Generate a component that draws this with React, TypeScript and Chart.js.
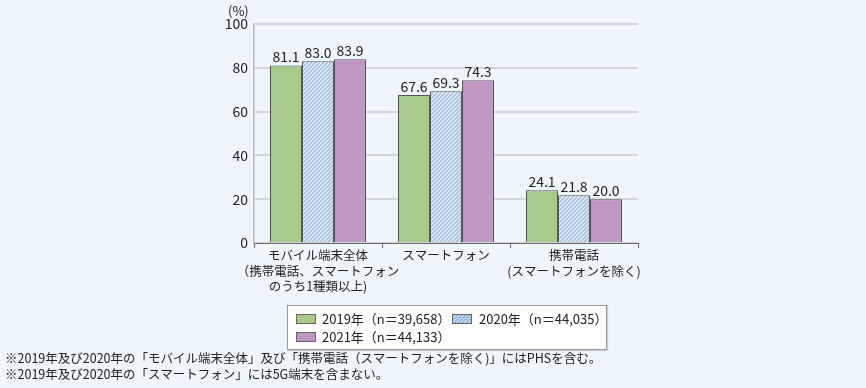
import React, { useEffect, useRef } from "react";
import { Chart, registerables } from "chart.js";

Chart.register(...registerables);

const categories: string[][] = [
  ["モバイル端末全体", "（携帯電話、スマートフォン", "のうち1種類以上)"],
  ["スマートフォン"],
  ["携帯電話", "(スマートフォンを除く)"],
];
const values2019 = [81.1, 67.6, 24.1];
const values2020 = [83.0, 69.3, 21.8];
const values2021 = [83.9, 74.3, 20.0];
const seriesNames = ["2019年（n＝39,658）", "2020年（n＝44,035）", "2021年（n＝44,133）"];
const yMin = 0;
const yMax = 100;
const yStep = 20;
const unitLabel = "(%)";
const footnotes = [
  "※2019年及び2020年の「モバイル端末全体」及び「携帯電話（スマートフォンを除く)」にはPHSを含む。",
  "※2019年及び2020年の「スマートフォン」には5G端末を含まない。",
];

const FONT = "'Noto Sans CJK JP', 'Noto Sans', sans-serif";
const GREEN = "#a7ca8b";
const BLUE = "#9bb9e6";
const PURPLE = "#c096c3";
const BG = "#eef5fd";

function makeHatch(): CanvasPattern | string {
  const c = document.createElement("canvas");
  c.width = 4;
  c.height = 4;
  const g = c.getContext("2d");
  if (!g) return BLUE;
  g.fillStyle = BLUE;
  g.fillRect(0, 0, 4, 4);
  g.strokeStyle = "rgba(255,255,255,0.85)";
  g.lineWidth = 1.3;
  g.beginPath();
  g.moveTo(-1, 5);
  g.lineTo(5, -1);
  g.moveTo(-1, 1);
  g.lineTo(1, -1);
  g.moveTo(3, 5);
  g.lineTo(5, 3);
  g.stroke();
  const p = g.createPattern(c, "repeat");
  return p || BLUE;
}

const valueLabels = {
  id: "valueLabels",
  afterDatasetsDraw(chart: any) {
    const ctx = chart.ctx;
    ctx.save();
    ctx.font = `14px ${FONT}`;
    ctx.fillStyle = "#222";
    ctx.textAlign = "center";
    ctx.textBaseline = "alphabetic";
    chart.data.datasets.forEach((ds: any, i: number) => {
      const meta = chart.getDatasetMeta(i);
      meta.data.forEach((el: any, j: number) => {
        ctx.fillText(Number(ds.data[j]).toFixed(1), el.x, el.y - 3);
      });
    });
    ctx.restore();
  },
};

export default function App() {
  const ref = useRef<HTMLCanvasElement>(null);

  useEffect(() => {
    if (!ref.current) return;
    const hatch = makeHatch();
    const chart = new Chart(ref.current, {
      type: "bar",
      data: {
        labels: categories,
        datasets: [
          { label: seriesNames[0], data: values2019, backgroundColor: GREEN },
          { label: seriesNames[1], data: values2020, backgroundColor: hatch as any },
          { label: seriesNames[2], data: values2021, backgroundColor: PURPLE },
        ].map((d) => ({
          ...d,
          borderColor: "#555",
          borderWidth: 1,
          categoryPercentage: 0.75,
          barPercentage: 1,
        })),
      },
      options: {
        responsive: false,
        animation: false,
        layout: { padding: { left: 214, right: 228, top: 24, bottom: 85 } },
        plugins: { legend: { display: false }, tooltip: { enabled: false } },
        scales: {
          x: {
            grid: {
              drawOnChartArea: false,
              drawTicks: true,
              tickLength: 5,
              offset: true,
              color: "#666",
              lineWidth: 1,
            },
            border: { display: true, color: "#666", width: 1 },
            ticks: {
              color: "#222",
              padding: 0,
              maxRotation: 0,
              autoSkip: false,
              font: { family: FONT, size: 12.5, lineHeight: 1.22 },
            },
            afterFit: (s: any) => {
              s.height = 60;
            },
          },
          y: {
            min: yMin,
            max: yMax,
            ticks: {
              stepSize: yStep,
              color: "#222",
              padding: 6,
              font: { family: FONT, size: 14 },
            },
            grid: { drawTicks: false, color: "#d2d5da", lineWidth: 2 },
            border: { display: true, color: "#bbbbbb", width: 1.5 },
            afterFit: (s: any) => {
              s.width = 40;
            },
          },
        },
      },
      plugins: [valueLabels],
    });
    return () => chart.destroy();
  }, []);

  const swatch = (bg: string) => ({
    position: "absolute" as const,
    width: 20,
    height: 10,
    border: "1px solid #666",
    background: bg,
    boxSizing: "border-box" as const,
  });
  const hatchCss = `repeating-linear-gradient(135deg, ${BLUE} 0px, ${BLUE} 1.6px, #dce8f8 1.6px, #dce8f8 2.8px)`;
  const textStyle = {
    position: "absolute" as const,
    fontSize: 13,
    lineHeight: "16px",
    color: "#222",
    whiteSpace: "nowrap" as const,
  };

  return (
    <div
      style={{
        position: "fixed",
        left: 0,
        top: 0,
        width: 866,
        height: 388,
        background: BG,
        fontFamily: FONT,
        overflow: "hidden",
      }}
    >
      <canvas ref={ref} width={866} height={388} style={{ position: "absolute", left: 0, top: 0 }} />
      <div style={{ position: "absolute", left: 228, top: 3, fontSize: 13, color: "#222", lineHeight: "16px" }}>
        {unitLabel}
      </div>
      <div
        style={{
          position: "absolute",
          left: 287,
          top: 305,
          width: 320,
          height: 45,
          background: "#fff",
          border: "1px solid #999",
          boxSizing: "border-box",
          boxShadow: "1px 1px 1px rgba(0,0,0,0.15)",
        }}
      >
        <div style={{ ...swatch(GREEN), left: 8, top: 8 }} />
        <div style={{ ...textStyle, left: 34, top: 5 }}>{seriesNames[0]}</div>
        <div style={{ ...swatch(hatchCss), left: 164, top: 8 }} />
        <div style={{ ...textStyle, left: 191, top: 5 }}>{seriesNames[1]}</div>
        <div style={{ ...swatch(PURPLE), left: 8, top: 26 }} />
        <div style={{ ...textStyle, left: 34, top: 23 }}>{seriesNames[2]}</div>
      </div>
      <div style={{ position: "absolute", left: 5, top: 350, fontSize: 12.5, lineHeight: "15.5px", color: "#222", whiteSpace: "nowrap" }}>
        {footnotes.map((f, i) => (
          <div key={i}>{f}</div>
        ))}
      </div>
    </div>
  );
}
